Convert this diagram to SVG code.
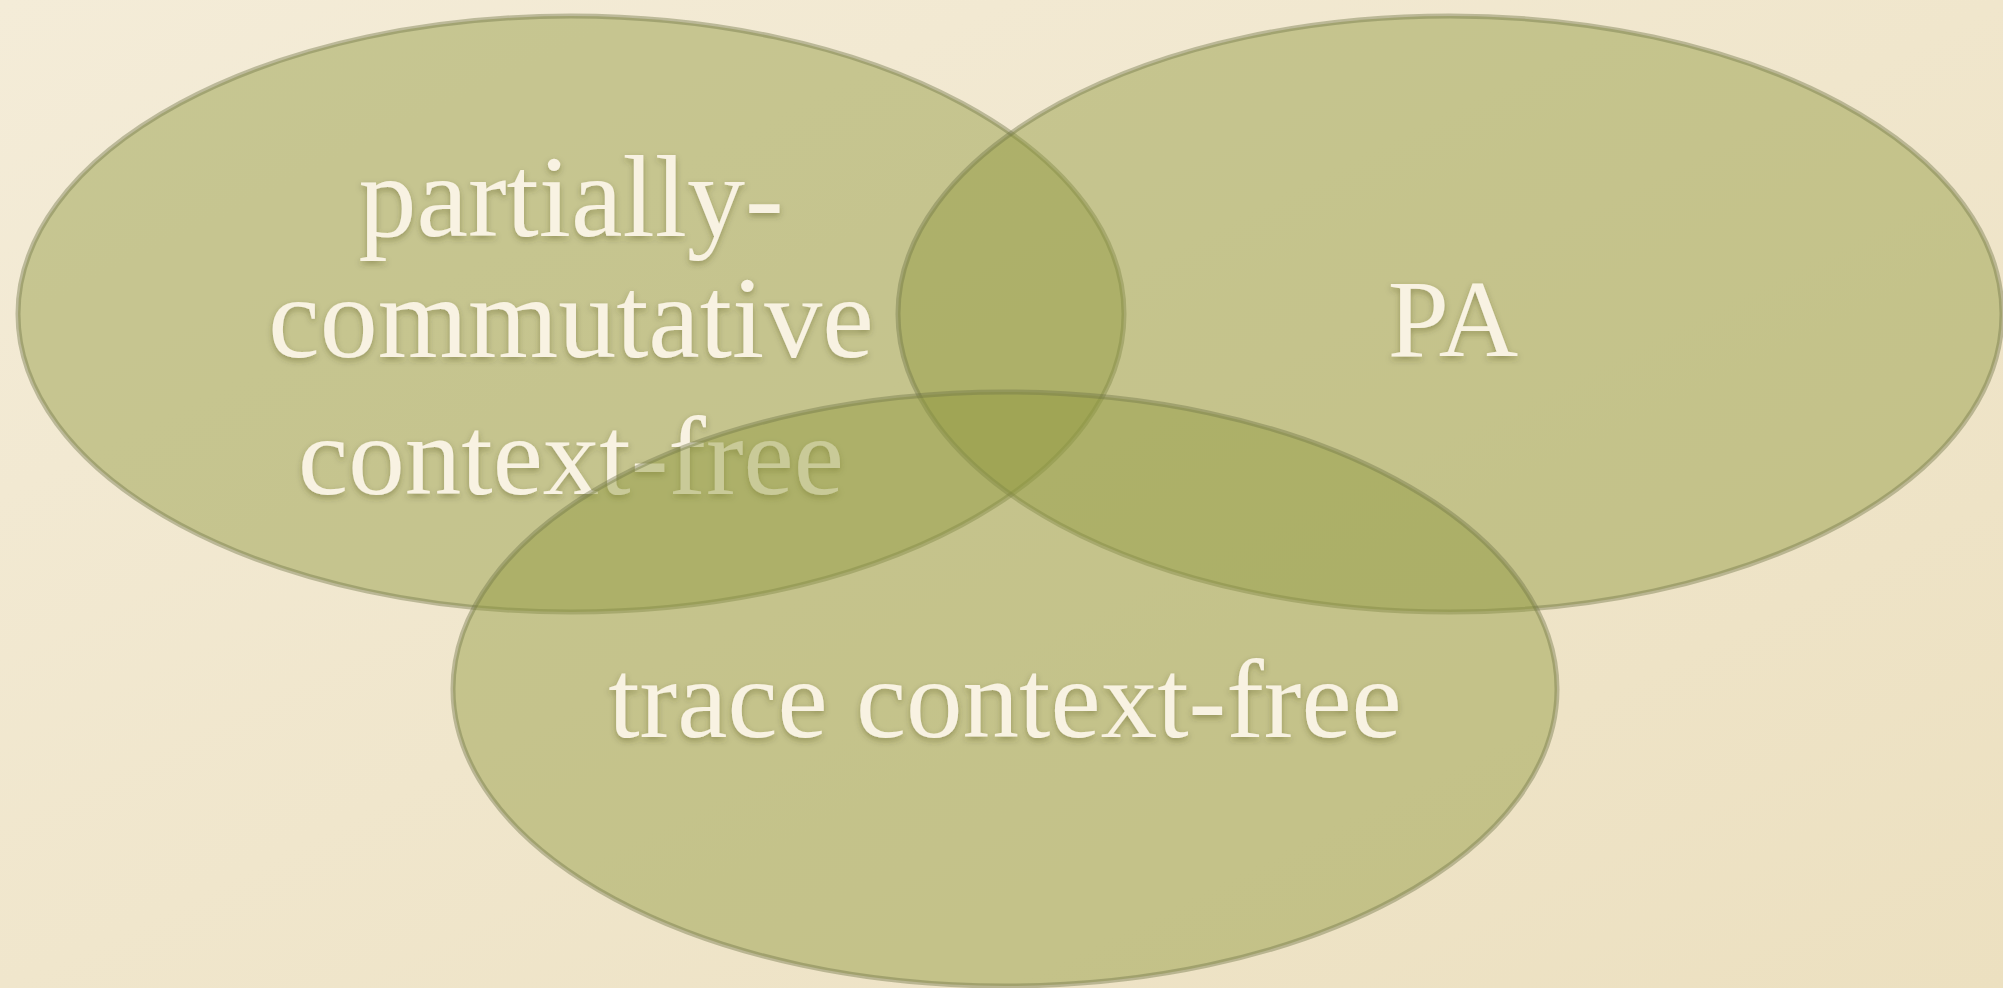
<svg xmlns="http://www.w3.org/2000/svg" width="2003" height="988" viewBox="0 0 2003 988">
  <defs>
    <linearGradient id="paper" x1="0" y1="0" x2="1" y2="1">
      <stop offset="0" stop-color="#f4ecd8"/>
      <stop offset="1" stop-color="#ece0c0"/>
    </linearGradient>
    <filter id="shadow" x="-10%" y="-20%" width="120%" height="150%">
      <feDropShadow dx="0" dy="3" stdDeviation="3" flood-color="#3a3a10" flood-opacity="0.35"/>
    </filter>
    <style>
      .set { fill: rgb(144,152,61); fill-opacity: 0.45; stroke: rgb(112,116,72); stroke-opacity: 0.42; stroke-width: 5; }
      .label { font-family: "Liberation Serif", "DejaVu Serif", serif; fill: #f8f2e2; text-anchor: middle; filter: url(#shadow); }
      .big { font-size: 116px; }
      .mid { font-size: 113px; }
      .pa { font-size: 110px; }
    </style>
  </defs>

  <rect x="0" y="0" width="2003" height="988" fill="url(#paper)"/>

  <g id="partially-commutative">
    <ellipse class="set" cx="571" cy="314" rx="553" ry="298"/>
  </g>
  <g id="pa">
    <ellipse class="set" cx="1450" cy="314" rx="552" ry="298"/>
    <text class="label pa" x="1453" y="356">PA</text>
  </g>
  <g id="partially-commutative-label">
    <text class="label big" x="571" y="236">partially-</text>
    <text class="label big" x="571" y="357">commutative</text>
    <text class="label mid" x="571" y="494">context-free</text>
  </g>
  <g id="trace">
    <ellipse class="set" cx="1005" cy="689" rx="552" ry="297"/>
    <text class="label mid" x="1005" y="737">trace context-free</text>
  </g>
  <g id="connectors"/>
</svg>
